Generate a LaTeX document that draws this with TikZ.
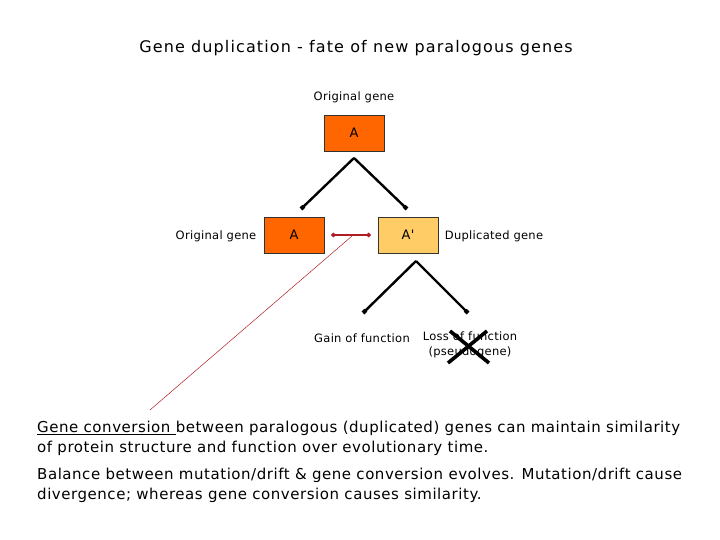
\documentclass[tikz,border=0pt]{standalone}
\usepackage{fontspec}
\setmainfont{DejaVu Sans}
\newfontfamily\titlefont[LetterSpace=7]{DejaVu Sans}
\newfontfamily\bodyfont[LetterSpace=3.6]{DejaVu Sans}
\newfontfamily\labelfont[LetterSpace=2.5]{DejaVu Sans}
\usetikzlibrary{positioning,arrows.meta}

\definecolor{geneorange}{HTML}{FF6600}
\definecolor{genelight}{HTML}{FFCC66}
\definecolor{convred}{HTML}{B01E23}

\tikzset{
  genebox/.style={draw=black!80, line width=0.8pt, minimum width=60pt, minimum height=36pt,
    inner sep=0pt, font=\labelfont\fontsize{13}{15}\selectfont},
  smalllabel/.style={font=\labelfont\fontsize{11.5}{15}\selectfont, inner sep=0pt, align=center},
  fate/.style={line width=2.4pt, -{Square[length=4pt,width=4pt]}},
  bodytext/.style={font=\bodyfont\fontsize{15}{20}\selectfont, inner sep=0pt, align=left}
}

\begin{document}
\begin{tikzpicture}[x=1pt, y=-1pt]
\useasboundingbox (0,0) rectangle (720,540);

\node[font=\titlefont\fontsize{16}{18}\selectfont] (title) at (356,48) {Gene duplication - fate of new paralogous genes};

\node[smalllabel] (origtop) at (354,97) {Original gene};
\node[genebox, fill=geneorange] (topA) at (354,133) {A};

\node[genebox, fill=geneorange] (leftA) at (294,235) {A};
\node[genebox, fill=genelight] (rightA) at (408,235) {A'};
\node[smalllabel] (origleft) at (216,236) {Original gene};
\node[smalllabel] (dupl) at (494,236) {Duplicated gene};

% duplication
\coordinate (split) at (354,158);
\draw[fate] (split) -- (301,209);
\draw[fate] (split) -- (407,209);

% gene conversion link
\draw[convred, line width=2.8pt, {Circle[length=4pt]}-{Circle[length=4pt]}]
  ([xshift=7pt]leftA.east) -- ([xshift=-7pt]rightA.west);
\coordinate (convmid) at (352,236);
\coordinate (convend) at (150,410);
\draw[convred, line width=0.5pt] (convmid) -- (convend);

% fates of the duplicate
\node[smalllabel] (gain) at (362,338) {Gain of function};
\node[smalllabel] (loss) at (470,345) {Loss of function\\(pseudogene)};
\coordinate (fork) at (416,261);
\draw[fate] (fork) -- (363,313);
\draw[fate] (fork) -- (468,313);

% pseudogene crossed out
\draw[line width=3.6pt] (450,331) -- (489,363);
\draw[line width=3.6pt] (487,331) -- (448,363);

\node[bodytext, anchor=north west] (para1) at (37,421)
  {\underline{Gene conversion\ }between paralogous (duplicated) genes can maintain similarity\\
   of protein structure and function over evolutionary time.};
\node[bodytext, below=12pt of para1.south west, anchor=north west] (para2)
  {Balance between mutation/drift \& gene conversion evolves. Mutation/drift cause\\
   divergence; whereas gene conversion causes similarity.};

\end{tikzpicture}
\end{document}
